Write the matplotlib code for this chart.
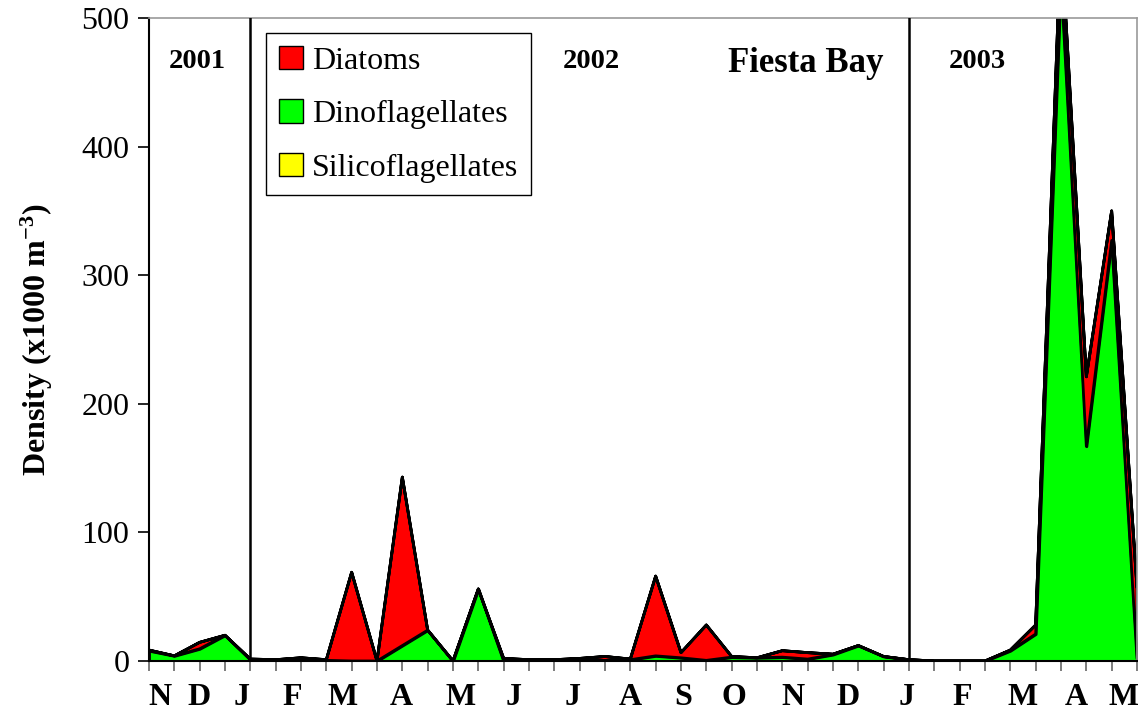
#!/usr/bin/env python3
# Fiesta Bay phytoplankton density, stacked area (Nov 2001 - May 2003)

import numpy as np
import matplotlib
matplotlib.use("Agg")
import matplotlib.pyplot as plt
from matplotlib.patches import Patch

plt.rcParams['font.family'] = ['Liberation Serif', 'DejaVu Serif']
plt.rcParams['mathtext.fontset'] = 'custom'
plt.rcParams['mathtext.rm'] = 'Liberation Serif:bold'
plt.rcParams['mathtext.bf'] = 'Liberation Serif:bold'
plt.rcParams['mathtext.it'] = 'Liberation Serif:bold'

# Semi-monthly samples (x1000 m^-3)
dinoflagellates = [8, 4, 9.5, 20, 1, 0.5, 2, 0.5, 0, 0,
                   12, 24, 0, 56, 0, 0.5, 0.5, 1, 0.5, 1,
                   4, 2.5, 0.5, 3, 2.5, 3, 1.5, 5, 12, 3.5,
                   1, 0, 0, 0, 8, 21, 530, 167, 327, 2]
diatoms = [0.5, 0, 5, 0, 0.5, 0.5, 0.5, 0.5, 69, 0,
           131, 0, 0, 0, 2, 0.5, 0.5, 1, 3, 0.5,
           62, 4, 27.5, 0.5, 0, 5, 5, 0.3, 0, 0,
           0, 0, 0, 0, 0.5, 7, 35, 54, 23, 55]
silicoflagellates = [0] * 40

month_labels = ['N', 'D', 'J', 'F', 'M', 'A', 'M', 'J', 'J', 'A',
                'S', 'O', 'N', 'D', 'J', 'F', 'M', 'A', 'M']
month_pos = [0.43, 1.97, 3.67, 5.65, 7.66, 9.97, 12.28, 14.4, 16.7, 19.0,
             21.1, 23.1, 25.4, 27.6, 29.9, 32.1, 34.5, 36.6, 38.45]
year_labels = ['2001', '2002', '2003']
year_pos = [1.89, 17.45, 32.7]
year_breaks = [4, 30]
site_name = 'Fiesta Bay'
site_pos = 25.93

x = np.arange(len(diatoms))

fig = plt.figure(figsize=(11.38, 7.12), dpi=100)
ax = fig.add_axes([149 / 1138, 51 / 712, 988 / 1138, 643 / 712])

ax.stackplot(x, dinoflagellates, diatoms, silicoflagellates,
             colors=['#00ff00', '#ff0000', '#ffff00'],
             edgecolor='black', linewidth=2)

for b in year_breaks:
    ax.axvline(b, color='black', linewidth=1.8, zorder=5)

ax.set_xlim(0, 39)
ax.set_ylim(0, 500)
ax.set_yticks(np.arange(0, 501, 100))
ax.set_xticks(x)
ax.set_xticklabels([])
ax.tick_params(axis='y', direction='out', length=8, width=1.2, pad=6,
               labelsize=23)
ax.tick_params(axis='x', direction='out', length=7, width=1.2,
               color='#666666')

for side in ['top', 'right']:
    ax.spines[side].set_color('#999999')
    ax.spines[side].set_linewidth(1.2)
for side in ['left', 'bottom']:
    ax.spines[side].set_linewidth(1.5)

xt = ax.get_xaxis_transform()
for lab, pos in zip(month_labels, month_pos):
    ax.text(pos, -0.057, lab, transform=xt,
            ha='center', va='center', fontsize=23, fontweight='bold')

for lab, pos in zip(year_labels, year_pos):
    ax.text(pos, 0.933, lab, transform=xt,
            ha='center', va='center', fontsize=20.5, fontweight='bold')

ax.text(site_pos, 0.93, site_name, transform=xt,
        ha='center', va='center', fontsize=25, fontweight='bold')

ax.set_ylabel('Density (x1000 m$^{-3}$)', fontsize=23, fontweight='bold')
ax.yaxis.set_label_coords(-0.095, 0.5)

handles = [Patch(facecolor='#ff0000', edgecolor='black', label='Diatoms'),
           Patch(facecolor='#00ff00', edgecolor='black', label='Dinoflagellates'),
           Patch(facecolor='#ffff00', edgecolor='black', label='Silicoflagellates')]
leg = ax.legend(handles=handles, loc='upper left',
                bbox_to_anchor=((266 - 149) / 988, (661 - 33) / 643),
                borderaxespad=0, fontsize=23, fancybox=False,
                edgecolor='black', framealpha=1, handlelength=0.75,
                handleheight=0.75, handletextpad=0.3, labelspacing=0.74,
                borderpad=0.4)
leg.get_frame().set_linewidth(1.0)

fig.savefig('out.png', dpi=100)
